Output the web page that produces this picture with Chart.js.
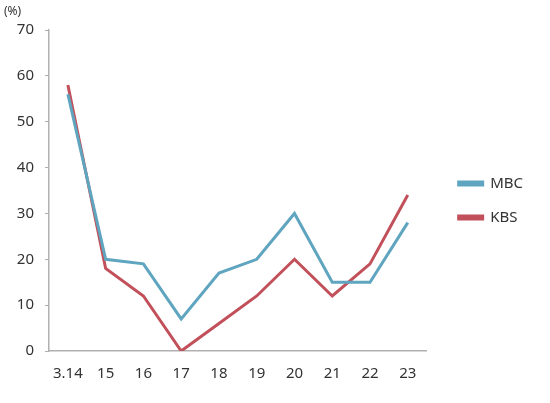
<!DOCTYPE html>
<html lang="ko">
<head>
    <meta charset="UTF-8">
    <title>MBC / KBS</title>
    <script src="https://cdn.jsdelivr.net/npm/chart.js"></script>
    <style>
        body {
            margin: 0;
            background: #fff;
        }
        #wrap {
            width: 550px;
            height: 403px;
        }
    </style>
</head>
<body>
    <div id="wrap"><canvas id="chart"></canvas></div>
    <script>
        // categories and series values (%)
        const labels = ['3.14', '15', '16', '17', '18', '19', '20', '21', '22', '23'];
        const mbcValues = [56, 20, 19, 7, 17, 20, 30, 15, 15, 28];
        const kbsValues = [58, 18, 12, 0, 6, 12, 20, 12, 19, 34];
        const yTicks = [0, 10, 20, 30, 40, 50, 60, 70];

        const font = "'Noto Sans', 'DejaVu Sans', sans-serif";

        // draws the "(%)" unit label in the top-left corner
        const unitLabel = {
            id: 'unitLabel',
            afterDraw(chart) {
                const ctx = chart.ctx;
                ctx.save();
                ctx.font = '12px ' + font;
                ctx.fillStyle = '#333';
                ctx.textBaseline = 'middle';
                ctx.fillText('(%)', 4, 12);
                ctx.restore();
            }
        };

        // nudge the legend into the right padding and a bit upward
        const legendShift = {
            id: 'legendShift',
            afterLayout(chart) {
                const lg = chart.legend;
                if (!lg) return;
                lg.left += 13;
                lg.right += 13;
                lg.top -= 16;
                lg.bottom -= 16;
                if (lg.adjustHitBoxes) lg.adjustHitBoxes();
            }
        };

        new Chart(document.getElementById('chart'), {
            type: 'line',
            data: {
                labels: labels,
                datasets: [
                    {
                        label: 'MBC',
                        data: mbcValues,
                        borderColor: '#5fa5bf',
                        backgroundColor: '#5fa5bf',
                        borderWidth: 3,
                        pointRadius: 0,
                        tension: 0
                    },
                    {
                        label: 'KBS',
                        data: kbsValues,
                        borderColor: '#c2505a',
                        backgroundColor: '#c2505a',
                        borderWidth: 3,
                        pointRadius: 0,
                        tension: 0
                    }
                ]
            },
            options: {
                responsive: true,
                maintainAspectRatio: false,
                animation: false,
                layout: {
                    padding: { top: 30, right: 30, left: 0, bottom: 0 }
                },
                plugins: {
                    tooltip: { enabled: false },
                    legend: {
                        position: 'right',
                        labels: {
                            boxWidth: 24,
                            boxHeight: 3,
                            padding: 19,
                            color: '#333',
                            font: { family: font, size: 15 }
                        }
                    }
                },
                scales: {
                    x: {
                        offset: true,
                        grid: { display: false, drawTicks: false },
                        border: { color: '#b0b0b0', width: 1.5 },
                        ticks: {
                            color: '#333',
                            padding: 14,
                            font: { family: font, size: 15 }
                        },
                        afterFit: scale => { scale.height = 52; }
                    },
                    y: {
                        min: 0,
                        max: 70,
                        afterBuildTicks: scale => {
                            scale.ticks = yTicks.map(v => ({ value: v }));
                        },
                        grid: {
                            drawOnChartArea: false,
                            drawTicks: true,
                            tickLength: 4,
                            color: '#b0b0b0'
                        },
                        border: { color: '#b0b0b0', width: 1.5 },
                        ticks: {
                            color: '#333',
                            padding: 11,
                            font: { family: font, size: 15 }
                        },
                        afterFit: scale => { scale.width = 49; }
                    }
                }
            },
            plugins: [unitLabel, legendShift]
        });
    </script>
</body>
</html>
